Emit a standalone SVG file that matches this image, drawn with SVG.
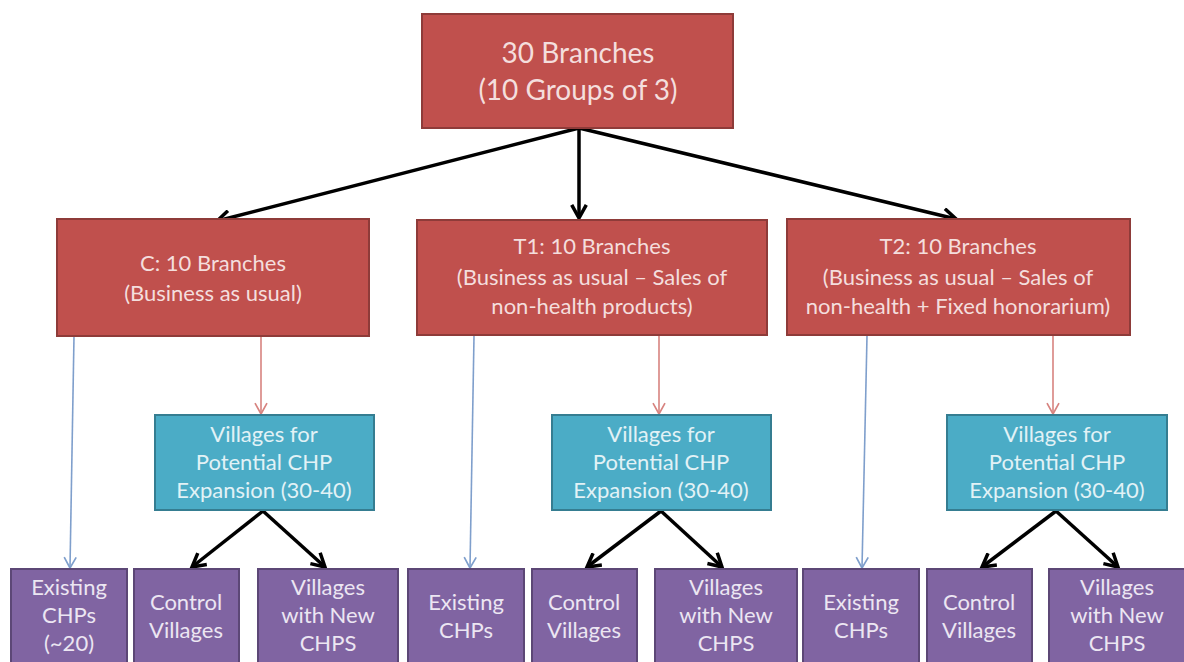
<svg xmlns="http://www.w3.org/2000/svg" width="1184" height="662" viewBox="0 0 1184 662">
<defs>
<style>
.red{fill:#C0504D;stroke:#8E3B39;stroke-width:2}
.cyan{fill:#4BACC6;stroke:#357D91;stroke-width:2}
.pur{fill:#8064A2;stroke:#5C4776;stroke-width:2}
text{font-family:Lato,"Open Sans","Liberation Sans",sans-serif;text-anchor:middle}
.tr{fill:#F4DEDD}
.tc{fill:#E2F2F6}
.tp{fill:#ECE6F2}
.big{font-size:28px}
.mid{font-size:22px}
.sm{font-size:22px}
.blk{stroke:#000;stroke-width:3.5;fill:none}
.bl{stroke:#7F9FCC;stroke-width:1.6;fill:none}
.rl{stroke:#D7837F;stroke-width:1.6;fill:none}
</style>
<marker id="ab" viewBox="0 0 12 12" refX="10" refY="6" markerWidth="5" markerHeight="5" orient="auto" markerUnits="strokeWidth">
<path d="M1,1 L10,6 L1,11" fill="none" stroke="#000" stroke-width="2.4"/>
</marker>
<marker id="abl" viewBox="0 0 12 12" refX="10" refY="6" markerWidth="9" markerHeight="9" orient="auto" markerUnits="strokeWidth">
<path d="M1,1 L10,6 L1,11" fill="none" stroke="#7F9FCC" stroke-width="1.4"/>
</marker>
<marker id="arl" viewBox="0 0 12 12" refX="10" refY="6" markerWidth="9" markerHeight="9" orient="auto" markerUnits="strokeWidth">
<path d="M1,1 L10,6 L1,11" fill="none" stroke="#D7837F" stroke-width="1.4"/>
</marker>
</defs>
<rect width="1184" height="662" fill="#fff"/>

<g id="connectors">
<path class="blk" d="M579,128 L217,221" marker-end="url(#ab)"/>
<path class="blk" d="M579,128 L579,218" marker-end="url(#ab)"/>
<path class="blk" d="M579,128 L956,219" marker-end="url(#ab)"/>

<path class="bl" d="M74,336 L70,568" marker-end="url(#abl)"/>
<path class="rl" d="M261,336 L261,414" marker-end="url(#arl)"/>
<path class="bl" d="M474,336 L470,568" marker-end="url(#abl)"/>
<path class="rl" d="M659,336 L659,414" marker-end="url(#arl)"/>
<path class="bl" d="M867,336 L862,568" marker-end="url(#abl)"/>
<path class="rl" d="M1053,336 L1053,414" marker-end="url(#arl)"/>

<path class="blk" d="M263,511 L192,567" marker-end="url(#ab)"/>
<path class="blk" d="M263,511 L325,567" marker-end="url(#ab)"/>
<path class="blk" d="M661,511 L587,567" marker-end="url(#ab)"/>
<path class="blk" d="M661,511 L722,567" marker-end="url(#ab)"/>
<path class="blk" d="M1056,511 L982,567" marker-end="url(#ab)"/>
<path class="blk" d="M1056,511 L1118,567" marker-end="url(#ab)"/>
</g>

<g id="top">
<rect class="red" x="422" y="14" width="311" height="114"/>
<text class="tr big" x="578" y="63">30 Branches</text>
<text class="tr big" x="578" y="100">(10 Groups of 3)</text>
</g>

<g id="c">
<rect class="red" x="57" y="219" width="312" height="117"/>
<text class="tr mid" x="213" y="271">C: 10 Branches</text>
<text class="tr mid" x="213" y="301">(Business as usual)</text>
</g>
<g id="t1">
<rect class="red" x="417" y="220" width="350" height="115"/>
<text class="tr mid" x="592" y="254">T1: 10 Branches</text>
<text class="tr mid" x="592" y="285">(Business as usual – Sales of</text>
<text class="tr mid" x="592" y="314">non-health products)</text>
</g>
<g id="t2">
<rect class="red" x="787" y="219" width="343" height="116"/>
<text class="tr mid" x="958" y="254">T2: 10 Branches</text>
<text class="tr mid" x="958" y="285">(Business as usual – Sales of</text>
<text class="tr mid" x="958" y="314">non-health + Fixed honorarium)</text>
</g>

<g id="c-villages">
<rect class="cyan" x="155" y="415" width="219" height="95"/>
<text class="tc sm" x="264" y="442">Villages for</text>
<text class="tc sm" x="264" y="470">Potential CHP</text>
<text class="tc sm" x="264" y="498">Expansion (30-40)</text>
</g>
<g id="t1-villages">
<rect class="cyan" x="552" y="415" width="219" height="95"/>
<text class="tc sm" x="661" y="442">Villages for</text>
<text class="tc sm" x="661" y="470">Potential CHP</text>
<text class="tc sm" x="661" y="498">Expansion (30-40)</text>
</g>
<g id="t2-villages">
<rect class="cyan" x="947" y="415" width="220" height="95"/>
<text class="tc sm" x="1057" y="442">Villages for</text>
<text class="tc sm" x="1057" y="470">Potential CHP</text>
<text class="tc sm" x="1057" y="498">Expansion (30-40)</text>
</g>

<g id="c-existing">
<rect class="pur" x="11" y="569" width="116" height="100"/>
<text class="tp sm" x="69" y="595">Existing</text>
<text class="tp sm" x="69" y="623">CHPs</text>
<text class="tp sm" x="69" y="651">(~20)</text>
</g>
<g id="c-control">
<rect class="pur" x="134" y="569" width="105" height="100"/>
<text class="tp sm" x="186" y="610">Control</text>
<text class="tp sm" x="186" y="638">Villages</text>
</g>
<g id="c-new">
<rect class="pur" x="258" y="569" width="140" height="100"/>
<text class="tp sm" x="328" y="595">Villages</text>
<text class="tp sm" x="328" y="623">with New</text>
<text class="tp sm" x="328" y="651">CHPS</text>
</g>

<g id="t1-existing">
<rect class="pur" x="408" y="569" width="116" height="100"/>
<text class="tp sm" x="466" y="610">Existing</text>
<text class="tp sm" x="466" y="638">CHPs</text>
</g>
<g id="t1-control">
<rect class="pur" x="532" y="569" width="105" height="100"/>
<text class="tp sm" x="584" y="610">Control</text>
<text class="tp sm" x="584" y="638">Villages</text>
</g>
<g id="t1-new">
<rect class="pur" x="655" y="569" width="142" height="100"/>
<text class="tp sm" x="726" y="595">Villages</text>
<text class="tp sm" x="726" y="623">with New</text>
<text class="tp sm" x="726" y="651">CHPS</text>
</g>

<g id="t2-existing">
<rect class="pur" x="803" y="569" width="116" height="100"/>
<text class="tp sm" x="861" y="610">Existing</text>
<text class="tp sm" x="861" y="638">CHPs</text>
</g>
<g id="t2-control">
<rect class="pur" x="927" y="569" width="105" height="100"/>
<text class="tp sm" x="979" y="610">Control</text>
<text class="tp sm" x="979" y="638">Villages</text>
</g>
<g id="t2-new">
<rect class="pur" x="1049" y="569" width="142" height="100"/>
<text class="tp sm" x="1117" y="595">Villages</text>
<text class="tp sm" x="1117" y="623">with New</text>
<text class="tp sm" x="1117" y="651">CHPS</text>
</g>
</svg>
